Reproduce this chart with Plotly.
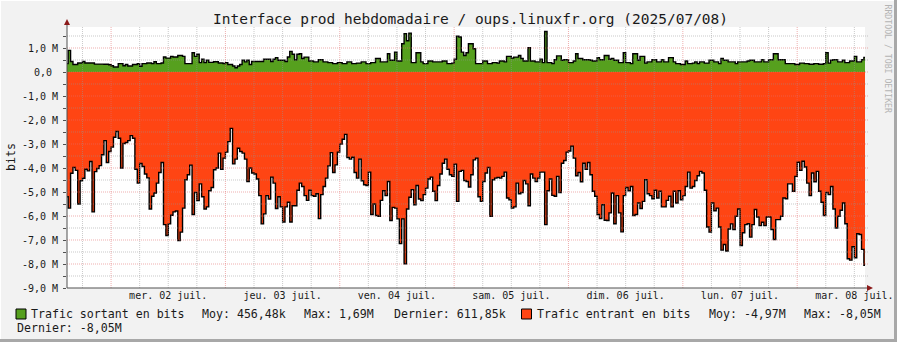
import plotly.graph_objects as go
import pandas as pd

# ---------------- data ----------------
title_text = "Interface prod hebdomadaire / oups.linuxfr.org (2025/07/08)"
first_step = "2025-07-01 14:30"          # 30-min RRD steps
x_range = ["2025-07-01 14:45", "2025-07-08 14:14"]

# outgoing traffic (M bits/s), one value per 30 min
out_bits_M = [
    0.35, 0.9, 0.44, 0.31, 0.31, 0.375, 0.375, 0.44, 0.375, 0.375,
    0.375, 0.375, 0.33, 0.33, 0.33, 0.33, 0.32, 0.32, 0.30, 0.26,
    0.21, 0.21, 0.35, 0.35, 0.26, 0.31, 0.25, 0.25, 0.31, 0.31,
    0.35, 0.24, 0.35, 0.35, 0.375, 0.375, 0.35, 0.43, 0.35, 0.35,
    0.375, 0.625, 0.58, 0.58, 0.65, 0.625, 0.625, 0.69, 0.69, 0.65,
    0.35, 0.35, 0.35, 0.8, 0.65, 0.74, 0.39, 0.53, 0.39, 0.49,
    0.40, 0.40, 0.43, 0.43, 0.375, 0.375, 0.35, 0.39, 0.31, 0.31,
    0.25, 0.18, 0.25, 0.31, 0.49, 0.42, 0.49, 0.31, 0.44, 0.44,
    0.44, 0.44, 0.44, 0.53, 0.53, 0.53, 0.44, 0.53, 0.6, 0.49,
    0.49, 0.49, 0.44, 0.625, 0.86, 0.74, 0.51, 0.74, 0.76, 0.56,
    0.62, 0.62, 0.46, 0.46, 0.42, 0.42, 0.51, 0.51, 0.42, 0.42,
    0.39, 0.39, 0.35, 0.35, 0.39, 0.39, 0.35, 0.35, 0.42, 0.42,
    0.35, 0.35, 0.37, 0.37, 0.42, 0.42, 0.35, 0.35, 0.39, 0.39,
    0.56, 0.56, 0.42, 0.42, 0.42, 0.76, 0.49, 0.49, 0.83, 0.46,
    0.46, 1.18, 1.6, 1.3, 1.62, 0.39, 0.39, 0.8, 0.8, 0.42,
    0.35, 0.35, 0.46, 0.46, 0.42, 0.42, 0.42, 0.42, 0.46, 0.46,
    0.35, 0.35, 0.37, 0.53, 1.49, 1.46, 0.83, 0.69, 0.8, 1.18,
    1.18, 0.97, 0.35, 0.35, 0.35, 0.46, 0.46, 0.35, 0.35, 0.39,
    0.39, 0.37, 0.46, 0.46, 0.42, 0.65, 0.65, 0.58, 0.62, 0.62,
    0.69, 0.56, 0.46, 0.46, 1.01, 0.46, 0.46, 0.42, 0.42, 0.53,
    0.39, 1.69, 0.39, 0.39, 0.35, 0.51, 0.67, 0.67, 0.49, 0.51,
    0.51, 0.39, 0.39, 0.46, 0.76, 0.56, 0.56, 0.51, 0.51, 0.51,
    0.49, 0.46, 0.46, 0.6, 0.51, 0.51, 0.69, 0.69, 0.53, 0.56,
    0.49, 0.49, 0.39, 0.39, 0.8, 0.39, 0.39, 0.35, 0.76, 0.76,
    0.49, 0.65, 0.65, 0.37, 0.42, 0.42, 0.51, 0.51, 0.42, 0.42,
    0.51, 0.42, 0.42, 0.6, 0.6, 0.42, 0.35, 0.35, 0.31, 0.31,
    0.46, 0.35, 0.35, 0.37, 0.42, 0.35, 0.42, 0.42, 0.37, 0.37,
    0.49, 0.49, 0.42, 0.42, 0.35, 0.56, 0.49, 0.49, 0.42, 0.42,
    0.42, 0.35, 0.42, 0.42, 0.42, 0.42, 0.46, 0.49, 0.49, 0.42,
    0.42, 0.42, 0.51, 0.42, 0.42, 0.51, 0.51, 0.76, 0.76, 0.51,
    0.51, 0.51, 0.35, 0.35, 0.35, 0.35, 0.31, 0.31, 0.37, 0.37,
    0.35, 0.35, 0.32, 0.32, 0.35, 0.35, 0.32, 0.32, 0.35, 0.8,
    0.37, 0.49, 0.51, 0.51, 0.42, 0.42, 0.49, 0.39, 0.39, 0.46,
    0.46, 0.65, 0.42, 0.42, 0.51, 0.61,
]

# incoming traffic (M bits/s, drawn negative), one value per 30 min
in_bits_M = [
    -5.2, -5.67, -4.22, -3.98, -4.1, -5.5, -4.53, -4.43, -4.05, -4.12,
    -3.73, -5.83, -4.15, -4.02, -3.9, -3.45, -2.86, -3.77, -3.31, -3.13,
    -2.72, -2.48, -2.76, -4.0, -2.98, -2.94, -2.86, -2.65, -2.76, -4.05,
    -4.63, -3.81, -3.94, -4.25, -4.41, -5.71, -5.18, -5.04, -4.63, -4.19,
    -3.77, -6.36, -6.81, -6.33, -5.97, -5.83, -5.79, -7.02, -6.67, -5.67,
    -4.49, -4.28, -3.88, -5.94, -5.02, -5.36, -4.66, -5.2, -5.71, -5.62,
    -4.95, -4.81, -4.07, -4.0, -3.38, -4.05, -3.59,
    -3.34, -2.9, -2.35, -3.83, -3.63, -3.18, -3.31, -3.38, -3.63, -4.56,
    -4.0, -4.21, -4.25, -4.46, -5.15, -6.33, -5.91, -5.15, -5.29, -4.38,
    -4.63, -5.69, -5.2, -5.62, -6.25, -5.62, -5.43, -6.25, -5.57, -5.57,
    -4.93, -4.63, -4.77, -5.15, -5.35, -4.93, -5.15, -5.18, -5.07, -6.11,
    -5.11, -4.77, -4.42, -3.91, -3.36, -4.19, -3.87, -3.34, -3.0, -2.8,
    -2.6, -3.56, -3.63, -3.55, -4.19, -4.42, -3.63, -4.53, -4.7, -4.73,
    -4.17, -5.94, -5.5, -5.98, -6.01, -5.35, -4.95,
    -5.15, -4.56, -6.19, -5.64, -5.67, -6.12, -7.15, -6.12, -7.99, -5.71,
    -5.22, -4.9, -5.53, -4.73, -5.29, -5.36, -5.11, -4.84, -4.46, -4.38,
    -4.97, -5.36, -4.73, -4.25, -3.8, -3.63, -4.05, -4.28, -4.35, -3.84,
    -5.39, -4.14, -4.1, -4.52, -4.56, -4.79, -4.28, -3.66, -3.59, -5.2,
    -5.39, -4.56, -4.21, -3.98, -6.01, -4.49, -4.42, -4.39, -4.42, -4.35,
    -4.17, -5.25, -5.32, -5.67, -5.62, -4.63, -5.07, -5.02, -4.52, -4.66,
    -5.57, -4.25, -4.42, -4.56, -4.42, -4.17, -4.17,
    -6.36, -4.95, -4.46, -5.14, -5.18, -4.35, -5.02, -3.8, -3.69, -3.34,
    -3.29, -3.09, -3.59, -4.32, -4.19, -4.57, -3.8, -4.05, -3.77, -4.28,
    -4.97, -5.18, -5.94, -6.11, -5.53, -6.18, -6.19, -5.87, -5.04, -6.32,
    -5.15, -5.87, -6.66, -5.15, -4.81, -4.95, -4.77, -5.98, -5.94, -5.46,
    -5.69, -5.39, -4.49, -5.07, -5.15, -5.28, -4.93, -5.25, -4.97, -5.62,
    -5.62, -5.35, -5.18, -5.62, -4.97, -5.46, -4.95, -5.32, -5.15, -4.77,
    -4.17, -4.84, -4.77, -4.52, -4.32, -4.14, -4.21,
    -4.93, -6.46, -6.67, -5.46, -5.78, -5.67, -6.46, -7.42, -7.19, -7.46,
    -6.54, -6.33, -6.56, -6.01, -5.71, -7.23, -6.7, -6.36, -6.32, -6.88,
    -6.36, -5.73, -6.04, -6.4, -6.26, -6.4, -6.04, -6.04, -6.56, -6.98,
    -6.15, -6.15, -6.01, -5.25, -5.28, -4.66, -4.66, -4.97, -4.35, -3.76,
    -4.1, -3.72, -3.96, -4.63, -5.15, -4.21, -4.57, -4.14, -4.97, -5.43,
    -5.98, -5.02, -5.11, -4.77, -5.71, -6.5, -6.01, -5.76, -5.46, -6.32,
    -7.78, -7.84, -7.28, -7.74, -6.74, -6.77, -7.39, -8.05,
]

day_ticks = ["2025-07-02 12:00", "2025-07-03 12:00", "2025-07-04 12:00",
             "2025-07-05 12:00", "2025-07-06 12:00", "2025-07-07 12:00",
             "2025-07-08 12:00"]
day_labels = ["mer. 02 juil.", "jeu. 03 juil.", "ven. 04 juil.", "sam. 05 juil.",
              "dim. 06 juil.", "lun. 07 juil.", "mar. 08 juil."]
y_ticks = [1, 0, -1, -2, -3, -4, -5, -6, -7, -8, -9]
y_labels = ["1,0 M", "0,0\u00a0", "-1,0 M", "-2,0 M", "-3,0 M", "-4,0 M",
            "-5,0 M", "-6,0 M", "-7,0 M", "-8,0 M", "-9,0 M"]
y_range = [-9, 1.875]

out_name = "Trafic sortant en bits"
in_name = "Trafic entrant en bits"
out_stats = ["Moy: 456,48k", "Max: 1,69M", "Dernier: 611,85k"]
in_stats = ["Moy: -4,97M", "Max: -8,05M", "Dernier: -8,05M"]

GREEN = "#56A01E"
RED = "#FF4513"
MONO = "DejaVu Sans Mono"

# ---------------- figure ----------------
W, H = 897, 342
L, R, T, B = 67, 865, 27, 288


def px(x):
    return (x - L) / (R - L)


def py(y):
    return (B - y) / (B - T)


times = pd.date_range(first_step, periods=len(in_bits_M) + 1, freq="30min")
in_y = in_bits_M + [in_bits_M[-1]]
out_y = out_bits_M + [out_bits_M[-1]]

fig = go.Figure()
fig.add_trace(go.Scatter(x=times, y=in_y, mode="lines", fill="tozeroy",
                         fillcolor=RED, line=dict(color="black", width=1.4, shape="hv"),
                         name=in_name, showlegend=False, hoverinfo="skip", cliponaxis=True))
fig.add_trace(go.Scatter(x=times, y=out_y, mode="lines", fill="tozeroy",
                         fillcolor=GREEN, line=dict(color="black", width=1.4, shape="hv"),
                         name=out_name, showlegend=False, hoverinfo="skip", cliponaxis=True))

shapes = []
GRID_MAJ = "rgba(225,110,110,0.55)"
GRID_MIN = "rgba(150,150,150,0.5)"
# horizontal grid (drawn above the areas like rrdtool)
k = y_range[0] + 0.5
while k < y_range[1]:
    major = abs(k - round(k)) < 1e-9
    shapes.append(dict(type="line", xref="paper", yref="y", x0=0, x1=px(868), y0=k, y1=k,
                       layer="above",
                       line=dict(color=GRID_MAJ if major else GRID_MIN, width=1, dash="1px,1px")))
    k += 0.5
# vertical grid: 6h minor, midnight major
for t in pd.date_range("2025-07-01 18:00", "2025-07-08 12:00", freq="6h"):
    major = t.hour == 0
    shapes.append(dict(type="line", xref="x", yref="paper", x0=t, x1=t, y0=0, y1=1,
                       layer="above",
                       line=dict(color=GRID_MAJ if major else GRID_MIN, width=1, dash="1px,1px")))
# axes lines + arrows
shapes.append(dict(type="line", xref="paper", yref="paper", x0=px(67), x1=px(67),
                   y0=py(288), y1=py(22), line=dict(color="#505050", width=1), layer="above"))
shapes.append(dict(type="line", xref="paper", yref="paper", x0=px(67), x1=px(870),
                   y0=py(288), y1=py(288), line=dict(color="#505050", width=1), layer="above"))
shapes.append(dict(type="path", xref="paper", yref="paper",
                   path=f"M {px(64)} {py(25)} L {px(70)} {py(25)} L {px(67)} {py(19)} Z",
                   fillcolor="#8B1A1A", line=dict(width=0), layer="above"))
shapes.append(dict(type="path", xref="paper", yref="paper",
                   path=f"M {px(867)} {py(285)} L {px(867)} {py(291)} L {px(873)} {py(288)} Z",
                   fillcolor="#8B1A1A", line=dict(width=0), layer="above"))
# legend swatches
shapes.append(dict(type="rect", xref="paper", yref="paper", x0=px(16), x1=px(26),
                   y0=py(319), y1=py(309), fillcolor=GREEN, line=dict(color="black", width=1)))
shapes.append(dict(type="rect", xref="paper", yref="paper", x0=px(521.5), x1=px(531.5),
                   y0=py(319), y1=py(309), fillcolor=RED, line=dict(color="black", width=1)))
# image frame
shapes.append(dict(type="line", xref="paper", yref="paper", x0=px(0), x1=px(W),
                   y0=py(H - 1.5), y1=py(H - 1.5), line=dict(color="#A8A8A8", width=3)))
shapes.append(dict(type="line", xref="paper", yref="paper", x0=px(W - 1.5), x1=px(W - 1.5),
                   y0=py(0), y1=py(H), line=dict(color="#A8A8A8", width=3)))
shapes.append(dict(type="line", xref="paper", yref="paper", x0=px(0), x1=px(W - 3),
                   y0=py(0.5), y1=py(0.5), line=dict(color="#FFFFFF", width=1)))
shapes.append(dict(type="line", xref="paper", yref="paper", x0=px(0.5), x1=px(0.5),
                   y0=py(0), y1=py(H - 3), line=dict(color="#FFFFFF", width=1)))

annotations = []


def txt(text, x, y, size=11.6, color="#1A1A1A", xanchor="left", angle=0):
    annotations.append(dict(text=text, x=px(x), y=py(y), xref="paper", yref="paper",
                            xanchor=xanchor, yanchor="middle", showarrow=False,
                            textangle=angle, borderpad=0,
                            font=dict(family=MONO, size=size, color=color)))


txt(title_text, 470, 19.5, size=14.5, xanchor="center")
txt("bits", 10.5, 157.5, angle=-90, xanchor="center")
txt("RRDTOOL / TOBI OETIKER", 887.5, 59, size=8.2, color="#B4B4B4", xanchor="center", angle=90)
txt(out_name, 29.5, 314)
txt(out_stats[0], 201, 314)
txt(out_stats[1], 303, 314)
txt(out_stats[2], 393, 314)
txt(in_name, 536, 314)
txt(in_stats[0], 708, 314)
txt(in_stats[1], 803, 314)
txt(in_stats[2], 15.5, 328)

fig.update_layout(
    width=W, height=H, autosize=False,
    margin=dict(l=L, r=W - R, t=T, b=H - B, pad=0, autoexpand=False),
    paper_bgcolor="#F2F2F2", plot_bgcolor="#FFFFFF",
    showlegend=False,
    shapes=shapes, annotations=annotations,
    xaxis=dict(type="date", range=x_range, tickvals=day_ticks, ticktext=day_labels,
               showgrid=False, zeroline=False, showline=False, ticks="", automargin=False,
               tickfont=dict(family=MONO, size=10, color="#1A1A1A"), fixedrange=True),
    yaxis=dict(range=y_range, tickvals=y_ticks, ticktext=y_labels, automargin=False,
               showgrid=False, zeroline=False, showline=False,
               ticks="outside", ticklen=3, tickcolor="#505050", tickwidth=1,
               ticklabelstandoff=3,
               minor=dict(dtick=0.5, tick0=0, ticks="outside", ticklen=3,
                          tickcolor="#505050", showgrid=False),
               tickfont=dict(family=MONO, size=10, color="#1A1A1A"), fixedrange=True),
)

fig.write_html("out.html", config={"responsive": False})
